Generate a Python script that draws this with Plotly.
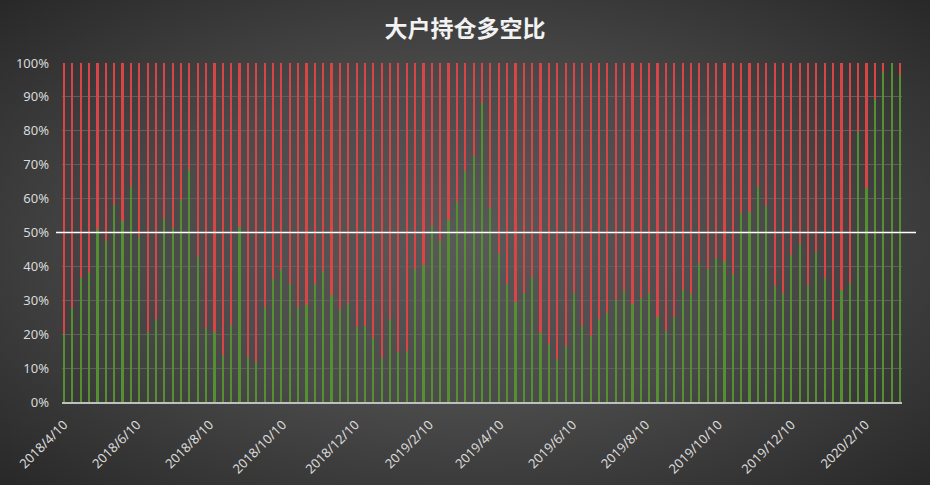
import base64
import datetime as dt
import plotly.graph_objects as go

# ---------------- data ----------------
n_weeks = 101
dates = [(dt.date(2018, 4, 10) + dt.timedelta(weeks=i)).isoformat() for i in range(n_weeks)]

long_ratio = [
    20.0, 27.6, 36.6, 38.2, 51.1, 47.6, 58.1, 53.5, 63.5, 48.8,
    20.6, 24.5, 54.1, 51.3, 59.5, 68.4, 42.9, 21.7, 20.6, 13.9,
    22.8, 51.6, 13.3, 11.8, 28.1, 36.4, 38.8, 34.8, 28.1, 28.7,
    34.8, 38.6, 31.7, 27.4, 29.3, 22.2, 22.4, 18.9, 13.0, 24.5,
    14.7, 15.1, 39.3, 40.5, 51.9, 47.6, 53.7, 59.0, 68.2, 72.6,
    88.3, 57.2, 43.7, 34.8, 29.5, 32.3, 37.0, 20.5, 17.1, 12.8,
    16.5, 32.3, 22.4, 19.5, 24.6, 26.4, 30.1, 32.8, 28.9, 30.7,
    32.3, 25.2, 21.0, 25.2, 33.0, 31.9, 41.1, 39.3, 42.5, 41.7,
    37.8, 55.9, 56.0, 63.5, 57.8, 34.2, 32.3, 43.5, 46.6, 34.6,
    44.2, 36.6, 24.2, 33.0, 35.2, 79.6, 63.1, 89.5, 97.3, 100.0,
    96.6,
]
long_ratio = [v / 100 for v in long_ratio]
short_ratio = [1 - v for v in long_ratio]

tick_dates = ["2018-04-10", "2018-06-10", "2018-08-10", "2018-10-10", "2018-12-10",
              "2019-02-10", "2019-04-10", "2019-06-10", "2019-08-10", "2019-10-10",
              "2019-12-10", "2020-02-10"]
tick_labels = ["2018/4/10", "2018/6/10", "2018/8/10", "2018/10/10", "2018/12/10",
               "2019/2/10", "2019/4/10", "2019/6/10", "2019/8/10", "2019/10/10",
               "2019/12/10", "2020/2/10"]
y_ticks = [i / 10 for i in range(11)]
y_labels = [f"{i * 10}%" for i in range(11)]
threshold = 0.5

title = "大户持仓多空比"

# ---------------- style ----------------
W, H = 930, 485
ML, MR, MT, MB = 62, 28, 63, 83
GREEN = "#558f30"
RED = "#d94545"

fig = go.Figure()
fig.add_trace(go.Bar(x=dates, y=long_ratio, name="多", marker=dict(color=GREEN, line=dict(width=0))))
fig.add_trace(go.Bar(x=dates, y=short_ratio, name="空", marker=dict(color=RED, line=dict(width=0))))

# radial gradient background as svg image
svg = f'''<svg xmlns="http://www.w3.org/2000/svg" width="{W}" height="{H}" viewBox="0 0 {W} {H}" preserveAspectRatio="none">
<defs><radialGradient id="g" cx="50%" cy="50%" r="75%" fx="50%" fy="50%">
<stop offset="0%" stop-color="#595959"/><stop offset="45%" stop-color="#4a4a4a"/><stop offset="100%" stop-color="#242424"/>
</radialGradient></defs><rect width="{W}" height="{H}" fill="url(#g)"/></svg>'''
uri = "data:image/svg+xml;base64," + base64.b64encode(svg.encode()).decode()
pw, ph = W - ML - MR, H - MT - MB

fig.add_layout_image(dict(source=uri, xref="paper", yref="paper",
                          x=-ML / pw, y=1 + MT / ph, sizex=W / pw, sizey=H / ph,
                          xanchor="left", yanchor="top", sizing="stretch", layer="below"))

fig.add_shape(type="line", xref="paper", yref="y", x0=-6 / pw, x1=1 + 14 / pw,
              y0=threshold, y1=threshold, line=dict(color="#ffffff", width=1.5), layer="above")

fig.update_layout(
    width=W, height=H,
    margin=dict(l=ML, r=MR, t=MT, b=MB, autoexpand=False),
    paper_bgcolor="#404040", plot_bgcolor="rgba(0,0,0,0)",
    barmode="stack", bargap=0.74, showlegend=False,
    title=dict(text="<b>" + title + "</b>", x=0.5, xref="container", xanchor="center",
               y=1 - 29 / H, yanchor="middle",
               font=dict(family="Noto Sans CJK SC", size=23, color="#f2f2f2")),
    font=dict(family="Noto Sans", color="#d9d9d9", size=13),
)
fig.update_xaxes(type="date", range=["2018-04-08 08:00", "2020-03-11 16:00"],
                 tickvals=tick_dates, ticktext=tick_labels, tickangle=-45,
                 showgrid=False, showline=True, linecolor="#bfbfbf", linewidth=2,
                 ticks="", ticklabelstandoff=8, tickfont=dict(size=13, color="#d9d9d9"))
fig.update_yaxes(range=[0, 1], tickvals=y_ticks, ticktext=y_labels,
                 showgrid=True, gridcolor="#5e5e5e", gridwidth=1, zeroline=False,
                 ticks="", ticklabelstandoff=12, tickfont=dict(size=13, color="#d9d9d9"))

fig.write_html("out.html", config={"displayModeBar": False},
               post_script="document.body.style.margin='0px';document.body.style.background='#404040';")
